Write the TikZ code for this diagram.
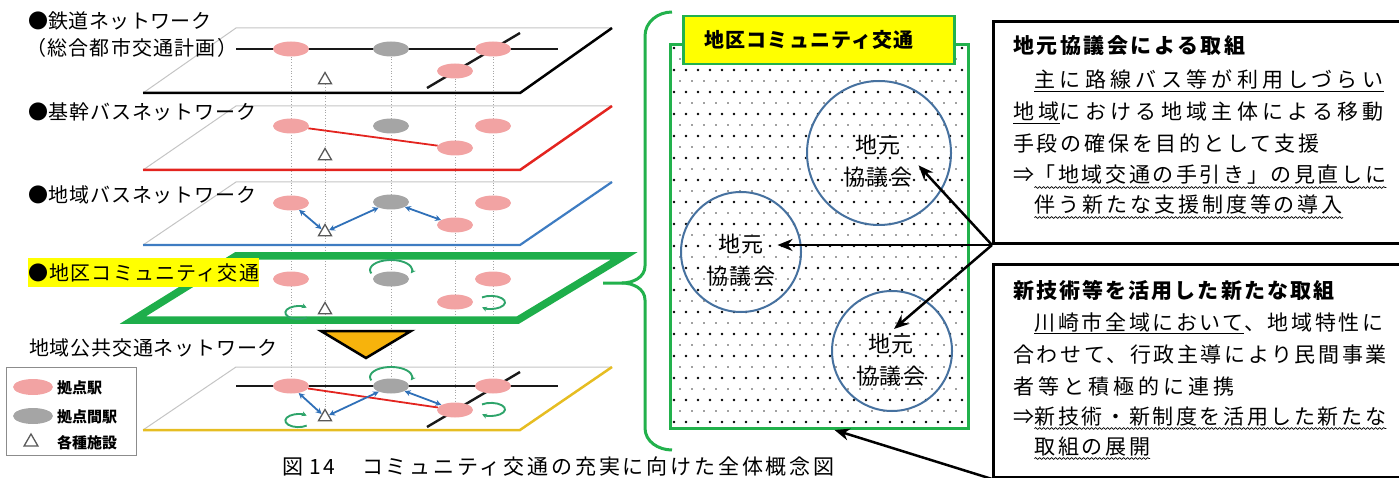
\documentclass[tikz,border=0pt]{standalone}
\usepackage{fontspec}
\setmainfont{Noto Sans CJK JP}
\newfontfamily\jp{Noto Sans CJK JP}
\usetikzlibrary{shapes.geometric,arrows.meta,decorations.pathmorphing}
\pgfdeclarelayer{bg}
\pgfsetlayers{bg,main}
\definecolor{pinkc}{HTML}{F2A3A3}
\definecolor{grayc}{HTML}{A5A5A5}
\definecolor{redc}{HTML}{E3241F}
\definecolor{bluec}{HTML}{3E7CC2}
\definecolor{bluea}{HTML}{2F70B8}
\definecolor{greenp}{HTML}{1EAE4B}
\definecolor{greenb}{HTML}{22B14C}
\definecolor{loopc}{HTML}{2EA46A}
\definecolor{yellowp}{HTML}{E6BD22}
\definecolor{orangec}{HTML}{F7B30C}
\definecolor{circc}{HTML}{46719F}
\definecolor{edgeg}{HTML}{C4C4C4}
\definecolor{hly}{HTML}{FFFF00}
\begin{document}
\begin{tikzpicture}[x=1pt,y=-1pt,
 lay/.style={anchor=base west, inner sep=0, font={\jp\fontsize{20}{24}\selectfont\addfontfeature{LetterSpace=#1}}},
 bod/.style={anchor=base west, inner sep=0, font={\jp\fontsize{21}{25}\selectfont\addfontfeature{LetterSpace=#1}}},
 bodb/.style={anchor=base west, inner sep=0, font={\jp\bfseries\fontsize{21}{25}\selectfont\addfontfeature{LetterSpace=#1}}},
 legt/.style={anchor=base west, inner sep=0, font={\jp\bfseries\fontsize{15}{18}\selectfont}},
 pk/.style={ellipse, fill=pinkc, minimum width=36pt, minimum height=15pt, inner sep=0},
 gy/.style={ellipse, fill=grayc, minimum width=36pt, minimum height=15pt, inner sep=0},
 fac/.style={regular polygon, regular polygon sides=3, draw=black!65, fill=white, line width=1.3pt, minimum size=15pt, inner sep=0},
 vline/.style={gray!70, dotted, line width=0.8pt},
 pedge/.style={edgeg, line width=1pt},
 rail/.style={black!90, line width=2.4pt},
 redl/.style={redc, line width=1.8pt},
 barr/.style={{Stealth[length=6pt,width=6pt]}-{Stealth[length=6pt,width=6pt]}, bluea, line width=1.8pt},
 gloop/.style={-{Stealth[length=5pt,width=5pt]}, loopc, line width=1.9pt},
 bk/.style={-{Stealth[length=15pt,width=12pt]}, black, line width=2.5pt},
 wav/.style={decorate, decoration={snake, amplitude=0.9pt, segment length=4pt}, line width=0.7pt},
 ulin/.style={line width=1.8pt},
 ctext/.style={align=center, inner sep=2pt, font={\jp\fontsize{22}{32}\selectfont\addfontfeature{LetterSpace=6}}},
 cring/.style={circle, draw=circc, line width=2pt, inner sep=0}
]
\useasboundingbox (0,0) rectangle (1399,478);

% ---------- left: layer labels ----------
\node[lay=2] (n1) at (28,29) {●鉄道ネットワーク};
\node[lay=6] (n2) at (26,56) {（総合都市交通計画）};
\node[lay=4] (n3) at (28,120) {●基幹バスネットワーク};
\node[lay=4] (n4) at (28,203) {●地域バスネットワーク};
\node[lay=6, fill=hly, inner ysep=5pt] (n5) at (28,280) {●地区コミュニティ交通};
\node[lay=4] (n6) at (29,355) {地域公共交通ネットワーク};

% ---------- layer nodes ----------
\node[pk] (p11) at (291,49) {};
\node[gy] (g11) at (391,49) {};
\node[pk] (p12) at (493,49) {};
\node[pk] (p13) at (455,71) {};
\node[fac] (t1) at (325,80) {};

\node[pk] (p21) at (291,126) {};
\node[gy] (g21) at (391,126) {};
\node[pk] (p22) at (493,126) {};
\node[pk] (p23) at (455,148) {};
\node[fac] (t2) at (325,156) {};

\node[pk] (p31) at (291,203) {};
\node[gy] (g31) at (391,202) {};
\node[pk] (p32) at (493,203) {};
\node[pk] (p33) at (455,225) {};
\node[fac] (t3) at (325,232) {};

\node[pk] (p41) at (291,279) {};
\node[gy] (g41) at (391,279) {};
\node[pk] (p42) at (493,279) {};
\node[pk] (p43) at (455,302) {};
\node[fac] (t4) at (325,310) {};

\node[pk] (p51) at (291,386) {};
\node[gy] (g51) at (391,386) {};
\node[pk] (p52) at (493,386) {};
\node[pk] (p53) at (455,410) {};
\node[fac] (t5) at (325,417) {};

\coordinate (r1a) at (236,49);
\coordinate (r1b) at (558,49);
\coordinate (r1c) at (427,88);
\coordinate (r1d) at (520,33);
\coordinate (r5a) at (236,386);
\coordinate (r5b) at (558,386);
\coordinate (r5c) at (427,427);
\coordinate (r5d) at (520,372);

\begin{pgfonlayer}{bg}
 % vertical dotted lines
 \draw[vline] (p11) -- (p51);
 \draw[vline] (t1) -- (t5);
 \draw[vline] (g11) -- (g51);
 \draw[vline] (p13) -- (p53);
 \draw[vline] (p12) -- (p52);
 % planes
 \draw[pedge] (143,93) -- (236,28) -- (612,28);
 \draw[black, line width=2.5pt, line join=miter] (143,93) -- (520,93) -- (612,28);
 \draw[pedge] (143,170) -- (236,106) -- (612,106);
 \draw[redc, line width=2.5pt, line join=miter] (143,170) -- (520,170) -- (612,106);
 \draw[pedge] (143,245) -- (236,182) -- (612,182);
 \draw[bluec, line width=2.2pt, line join=miter] (143,245) -- (520,245) -- (612,182);
 \draw[greenp, line width=7.5pt, line join=miter] (133,320) -- (236,256) -- (624,256) -- (518,320) -- cycle;
 \draw[pedge] (143,430) -- (236,367) -- (612,367);
 \draw[yellowp, line width=2.5pt, line join=miter] (143,430) -- (520,430) -- (612,367);
 % rails
 \draw[rail] (r1a) -- (r1b);
 \draw[rail] (r1c) -- (r1d);
 \draw[rail] (r5a) -- (r5b);
 \draw[rail] (r5c) -- (r5d);
 % red bus lines
 \draw[redl] (p21) -- (p23);
 \draw[redl] (p51) -- (p53);
\end{pgfonlayer}

% blue arrows
\draw[barr] (p31) -- (t3);
\draw[barr] (t3) -- (g31);
\draw[barr] (g31) -- (p33);
\draw[barr] (p51) -- (t5);
\draw[barr] (t5) -- (g51);
\draw[barr] (g51) -- (p53);

% green loops
\draw[gloop] ([shift={(-19.7,-5.6)}]g41.center) arc[start angle=200, end angle=-20, x radius=21pt, y radius=10pt];
\draw[gloop] ([shift={(-18.3,7.6)}]t4.center) arc[start angle=310, end angle=50, x radius=13pt, y radius=6.5pt];
\draw[gloop] ([shift={(27,-4.6)}]p43.center) arc[start angle=130, end angle=-130, x radius=14pt, y radius=6.5pt];
\draw[gloop] ([shift={(-19.7,-5.6)}]g51.center) arc[start angle=200, end angle=-20, x radius=21pt, y radius=10pt];
\draw[gloop] ([shift={(-18.3,8.6)}]t5.center) arc[start angle=310, end angle=50, x radius=13pt, y radius=6.5pt];
\draw[gloop] ([shift={(27,-5.6)}]p53.center) arc[start angle=130, end angle=-130, x radius=14pt, y radius=6.5pt];

% orange triangle
\draw[line width=2.5pt, fill=orangec, line join=miter] (321,331) -- (411,331) -- (366,358) -- cycle;

% legend
\node[draw=black!45, line width=1.2pt, minimum width=130pt, minimum height=88pt, anchor=north west, inner sep=0] (leg) at (6,367) {};
\node[pk, minimum width=40pt, minimum height=16pt] (lp) at (33,387) {};
\node[gy, minimum width=40pt, minimum height=16pt] (lg) at (33,416) {};
\node[fac, minimum size=16pt] (lt) at (31,442) {};
\node[legt] (lpt) at (57,393) {拠点駅};
\node[legt] (lgt) at (57,422) {拠点間駅};
\node[legt] (ltt) at (57,448) {各種施設};

% caption
\node[anchor=base west, inner sep=0, font={\jp\fontsize{21}{25}\selectfont\addfontfeature{LetterSpace=13.5}}] (cap) at (282,474) {図\hspace{6pt}14　コミュニティ交通の充実に向けた全体概念図};

% ---------- brace ----------
\draw[greenb, line width=3pt] (672,12) to[out=180, in=90] (645,36) -- (645,266) to[out=-90, in=0] (622,283) -- (603,283);
\draw[greenb, line width=3pt] (622,283) to[out=0, in=90] (645,300) -- (645,428) to[out=-90, in=180] (672,450);

% ---------- community box ----------
\node[draw=greenb, fill=white, line width=3pt, minimum width=298pt, minimum height=384pt, anchor=north west, inner sep=0] (cbox) at (669,43) {};
\begin{scope}
 \clip (671,45) rectangle (965,425);
 \foreach \j in {0,...,17} \foreach \i in {0,...,24} \fill (674+\i*12, 48+\j*22) circle[radius=1.3pt];
 \foreach \j in {0,...,17} \foreach \i in {0,...,24} \fill[black!75] (680+\i*12, 59+\j*22) circle[radius=0.9pt];
\end{scope}
\node[draw=greenb, fill=hly, line width=2.5pt, minimum width=271pt, minimum height=48pt, anchor=north west, inner sep=0] (lab) at (682,15) {};
\node[inner sep=0, font={\jp\bfseries\fontsize{20}{24}\selectfont\addfontfeature{LetterSpace=6}}] (labt) at (809,40) {地区コミュニティ交通};

\node[cring, minimum size=144pt] (c1) at (879,153) {};
\node[cring, minimum size=120pt] (c2) at (741,252) {};
\node[cring, minimum size=120pt] (c3) at (892,351) {};
\node[ctext] (k1) at (878,161) {地元\\協議会};
\node[ctext] (k2) at (741,260) {地元\\協議会};
\node[ctext] (k3) at (891,360) {地元\\協議会};

% ---------- right boxes ----------
\node[draw, line width=3pt, minimum width=418pt, minimum height=222pt, anchor=north west, inner sep=0] (b1) at (992,20) {};
\node[draw, line width=3pt, minimum width=418pt, minimum height=213pt, anchor=north west, inner sep=0] (b2) at (992,263) {};

\node[bodb=12] (b1t) at (1013,54) {地元協議会による取組};
\node[bod=20.5] (b1l2a) at (1013,88) {　};
\node[bod=20.5] (b1l2b) at (b1l2a.base east) {主に路線バス等が利用しづらい};
\node[bod=20.5] (b1l3a) at (1013,120) {地域};
\node[bod=20.5] (b1l3b) at (b1l3a.base east) {における地域主体による移動};
\node[bod=13.3] (b1l4) at (1013,152) {手段の確保を目的として支援};
\node[bod=12.4] (b1l5a) at (1013,183) {⇒};
\node[bod=12.4] (b1l5b) at (b1l5a.base east) {「地域交通の手引き」の見直しに};
\node[bod=14] (b1l6a) at (1013,213) {　};
\node[bod=14] (b1l6b) at (b1l6a.base east) {伴う新たな支援制度等の導入};
\draw[ulin] ([yshift=-3.5pt]b1l2b.base west) -- ([yshift=-3.5pt]b1l2b.base east);
\draw[ulin] ([yshift=-3.5pt]b1l3a.base west) -- ([yshift=-3.5pt]b1l3a.base east);
\draw[wav] ([yshift=-4.5pt]b1l5b.base west) -- ([yshift=-4.5pt]b1l5b.base east);
\draw[wav] ([yshift=-4.5pt]b1l6b.base west) -- ([yshift=-4.5pt]b1l6b.base east);

\node[bodb=10] (b2t) at (1013,298) {新技術等を活用した新たな取組};
\node[bod=12.4] (b2l2a) at (1013,330) {　};
\node[bod=12.4] (b2l2b) at (b2l2a.base east) {川崎市全域において};
\node[bod=12.4] (b2l2c) at (b2l2b.base east) {、地域特性に};
\node[bod=12.4] (b2l3) at (1013,362) {合わせて、行政主導により民間事業};
\node[bod=19.5] (b2l4) at (1013,394) {者等と積極的に連携};
\node[bod=12.4] (b2l5a) at (1013,424) {⇒};
\node[bod=12.4] (b2l5b) at (b2l5a.base east) {新技術・新制度を活用した新たな};
\node[bod=12.4] (b2l6a) at (1013,454) {　};
\node[bod=12.4] (b2l6b) at (b2l6a.base east) {取組の展開};
\draw[ulin] ([yshift=-3.5pt]b2l2b.base west) -- ([yshift=-3.5pt]b2l2b.base east);
\draw[wav] ([yshift=-4.5pt]b2l5b.base west) -- ([yshift=-4.5pt]b2l5b.base east);
\draw[wav] ([yshift=-4.5pt]b2l6b.base west) -- ([yshift=-4.5pt]b2l6b.base east);

% ---------- arrows ----------
\draw[bk, shorten >=6pt] (b1.south west) -- (k1.east);
\draw[bk] (b1.south west) -- (k2.east |- b1.south west);
\draw[bk, shorten >=4pt] (b1.south west) -- (k3.north);
\draw[bk] (b2.south west) -- ([xshift=15pt]cbox.south);
\end{tikzpicture}
\end{document}
